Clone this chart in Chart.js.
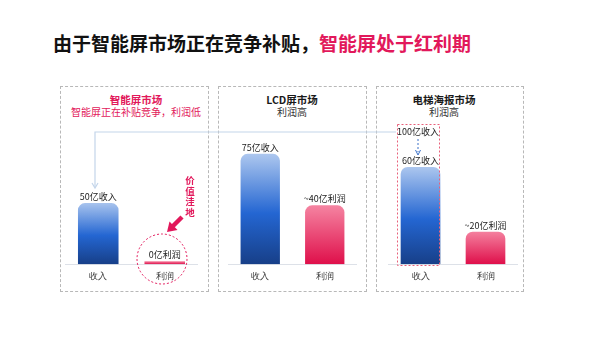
<!DOCTYPE html>
<html>
<head>
<meta charset="utf-8">
<script src="https://cdn.jsdelivr.net/npm/chart.js@4"></script>
<style>
    body { margin: 0; background: #fff; font-family: "Noto Sans CJK SC", "Noto Sans", sans-serif; }
    #page { position: relative; width: 600px; height: 337px; overflow: hidden; }
    .abs { position: absolute; }
    .panel { position: absolute; border: 1px dashed #b8b8b8; box-sizing: border-box; }
    .ptitle { position: absolute; width: 200px; text-align: center; font-size: 10px; line-height: 12px; white-space: nowrap; }
    canvas { position: absolute; }
</style>
</head>
<body>
<div id="page">
    <div class="abs" style="left:53px; top:29px; font-size:19px; font-weight:bold; color:#111; white-space:nowrap;">
        由于智能屏市场正在竞争补贴，<span style="color:#e2185b;">智能屏处于红利期</span>
    </div>

    <div class="panel" style="left:60px; top:86px; width:149px; height:206px;"></div>
    <div class="panel" style="left:218px; top:86px; width:149px; height:206px;"></div>
    <div class="panel" style="left:376px; top:86px; width:148px; height:206px;"></div>

    <div id="titles"></div>

    <canvas id="chart0" width="133" height="169" style="left:65px; top:120px;"></canvas>
    <canvas id="chart1" width="129" height="169" style="left:228px; top:120px;"></canvas>
    <canvas id="chart2" width="130" height="169" style="left:388px; top:120px;"></canvas>

    <svg class="abs" width="600" height="337" style="left:0; top:0; pointer-events:none;">
        <!-- соединительная линия -->
        <polyline points="396,132 95,132 95,187" fill="none" stroke="#c4d5ea" stroke-width="1.2"/>
        <polyline points="92,183 95,188 98,183" fill="none" stroke="#c4d5ea" stroke-width="1.2"/>
        <!-- кружок вокруг нулевой прибыли -->
        <circle cx="162" cy="259" r="25" fill="none" stroke="#e2185b" stroke-width="1" stroke-dasharray="2,2"/>
        <!-- розовая стрелка -->
        <line x1="182" y1="217" x2="173" y2="226" stroke="#e2185b" stroke-width="4.5"/>
        <polygon points="167,232 177.5,230 169.5,221.5" fill="#e2185b"/>
        <!-- рамка 100 -> 60 -->
        <rect x="397.5" y="124.5" width="42" height="141" fill="none" stroke="#e8607a" stroke-width="1" stroke-dasharray="2,2"/>
        <line x1="418" y1="139" x2="418" y2="152" stroke="#3a70c8" stroke-width="1" stroke-dasharray="2,2"/>
        <polyline points="415.5,150 418,155 420.5,150" fill="none" stroke="#3a70c8" stroke-width="1"/>
    </svg>

    <div class="abs" style="left:184px; top:175px; width:12px; font-size:9.5px; line-height:10.5px; font-weight:bold; color:#e2185b; text-align:center;">价<br>值<br>洼<br>地</div>
    <div id="origLabel" class="abs" style="left:388px; top:126px; width:60px; text-align:center; font-size:9px; line-height:11px; color:#222;"></div>
</div>

<script>
// Данные
const markets = ['智能屏市场', 'LCD屏市场', '电梯海报市场'];
const subtitles = ['智能屏正在补贴竞争，利润低', '利润高', '利润高'];
const categories = ['收入', '利润'];
const revenue = [50, 75, 60];
const profit = [0, 40, 20];
const revenueLabels = ['50亿收入', '75亿收入', '60亿收入'];
const profitLabels = ['0亿利润', '~40亿利润', '~20亿利润'];
const originalRevenueLabel = '100亿收入';

// Заголовки панелей
const titleCenters = [136, 292, 444];
const titlesBox = document.getElementById('titles');
markets.forEach((m, i) => {
    const accent = i === 0;
    const t = document.createElement('div');
    t.className = 'ptitle';
    t.style.left = (titleCenters[i] - 100) + 'px';
    t.style.top = '94px';
    t.innerHTML = '<div style="font-weight:bold;font-size:10.5px;color:' + (accent ? '#e2185b' : '#1a1a1a') + '">' + m + '</div>' +
        '<div style="color:' + (accent ? '#e2185b' : '#333') + '">' + subtitles[i] + '</div>';
    titlesBox.appendChild(t);
});
document.getElementById('origLabel').textContent = originalRevenueLabel;

// Градиент столбца от вершины к основанию
function barGradient(context) {
    const chart = context.chart;
    const area = chart.chartArea;
    if (!area || !chart.scales.y) return context.dataIndex === 0 ? '#2a66d0' : '#e8205a';
    const value = context.raw;
    const top = chart.scales.y.getPixelForValue(value) - 3;
    const g = chart.ctx.createLinearGradient(0, top, 0, area.bottom);
    if (context.dataIndex === 0) {
        g.addColorStop(0, '#b4ccf0');
        g.addColorStop(0.55, '#2466d2');
        g.addColorStop(1, '#173f88');
    } else {
        g.addColorStop(0, '#f68aa6');
        g.addColorStop(1, '#df0f4a');
    }
    return g;
}

// Подписи над столбцами
const valueLabels = {
    id: 'valueLabels',
    afterDatasetsDraw(chart) {
        const idx = chart.options.plugins.valueLabels.panel;
        const ctx = chart.ctx;
        const meta = chart.getDatasetMeta(0);
        const texts = [revenueLabels[idx], profitLabels[idx]];
        ctx.save();
        ctx.font = '9px "Noto Sans CJK SC", sans-serif';
        ctx.fillStyle = '#222';
        ctx.textAlign = 'center';
        ctx.textBaseline = 'bottom';
        meta.data.forEach((bar, i) => {
            ctx.fillText(texts[i], bar.x, bar.y - 2);
        });
        ctx.restore();
    }
};

function makeChart(idx, yMax) {
    const ctx = document.getElementById('chart' + idx).getContext('2d');
    return new Chart(ctx, {
        type: 'bar',
        data: {
            labels: categories,
            datasets: [{
                data: [revenue[idx], profit[idx]],
                backgroundColor: barGradient,
                borderRadius: c => c.raw === 0 ? 0 : { topLeft: 7, topRight: 7, bottomLeft: 0, bottomRight: 0 },
                borderSkipped: false,
                barPercentage: 0.61,
                categoryPercentage: 1,
                minBarLength: 3
            }]
        },
        options: {
            responsive: false,
            animation: false,
            layout: { padding: 0 },
            plugins: {
                legend: { display: false },
                tooltip: { enabled: false },
                valueLabels: { panel: idx }
            },
            scales: {
                x: {
                    grid: { display: false, drawTicks: false },
                    border: { color: '#dde1e8' },
                    ticks: { color: '#333', font: { size: 9 }, padding: 7 }
                },
                y: { display: false, min: 0, max: yMax }
            }
        },
        plugins: [valueLabels]
    });
}

makeChart(0, 118);
makeChart(1, 98);
makeChart(2, 89);
</script>
</body>
</html>
